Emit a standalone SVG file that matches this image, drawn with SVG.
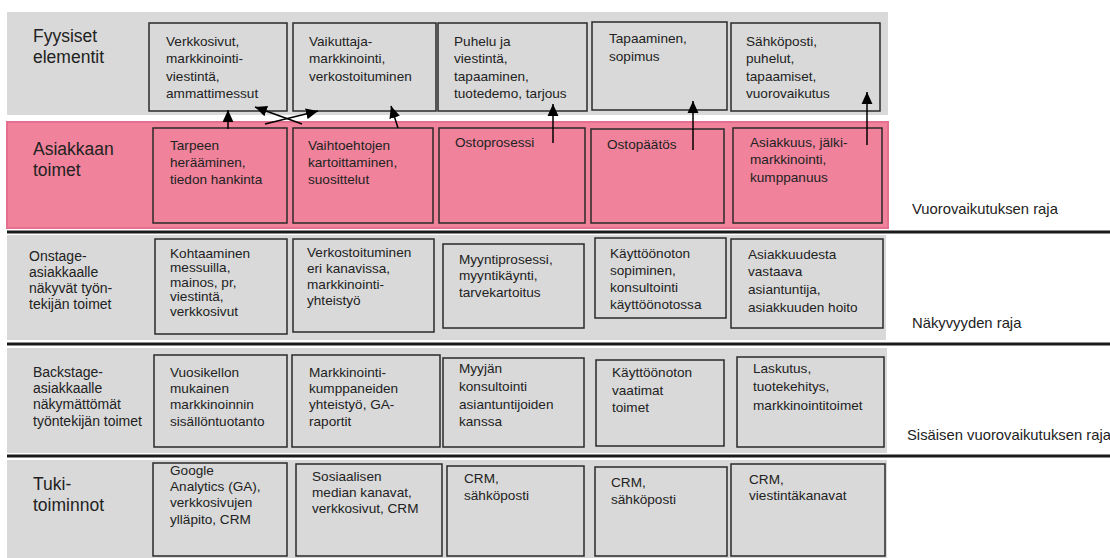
<svg xmlns="http://www.w3.org/2000/svg" width="1110" height="558" viewBox="0 0 1110 558">
<style>
.band{fill:#d9d9d9}
.pink{fill:#f0829b;stroke:#e56f8e;stroke-width:2}
.box{fill:#d9d9d9;stroke:#2a2a2a;stroke-width:1.5}
.pbox{fill:#f0829b;stroke:#2a2a2a;stroke-width:1.5}
text{font-family:"Liberation Sans",Arial,sans-serif;fill:#222}
.t{font-size:13.6px}
.h{font-size:17.5px}
.s{font-size:14px}
.r{font-size:14.8px}
.sep{stroke:#1a1a1a;stroke-width:3}
.arr{stroke:#000;stroke-width:1.5;fill:none;marker-end:url(#ah)}
</style>
<defs>
<marker id="ah" markerUnits="userSpaceOnUse" markerWidth="12" markerHeight="12" refX="11" refY="5" orient="auto" viewBox="0 0 11 10">
<path d="M0,0 L11,5 L0,10 z" fill="#000"/>
</marker>
</defs>
<rect width="1110" height="558" fill="#fff"/>

<!-- lanes -->
<g id="lane-fyysiset">
<rect class="band" x="7" y="12" width="881" height="103"/>
<text class="h" x="33" y="42">Fyysiset</text>
<text class="h" x="33" y="63">elementit</text>
</g>
<g id="lane-asiakkaan">
<rect class="pink" x="7" y="122" width="881" height="106"/>
<text class="h" x="33" y="155">Asiakkaan</text>
<text class="h" x="33" y="176">toimet</text>
</g>
<g id="lane-onstage">
<rect class="band" x="7" y="235" width="879" height="105"/>
<text class="s"><tspan x="29" y="261">Onstage-</tspan><tspan x="29" y="277">asiakkaalle</tspan><tspan x="29" y="293">näkyvät työn-</tspan><tspan x="29" y="309">tekijän toimet</tspan></text>
</g>
<g id="lane-backstage">
<rect class="band" x="7" y="348" width="880" height="105"/>
<text class="s"><tspan x="33" y="377">Backstage-</tspan><tspan x="33" y="393">asiakkaalle</tspan><tspan x="33" y="409">näkymättömät</tspan><tspan x="33" y="426">työntekijän toimet</tspan></text>
</g>
<g id="lane-tuki">
<rect class="band" x="7" y="460" width="880" height="98"/>
<text class="h" x="33" y="490">Tuki-</text>
<text class="h" x="33" y="511">toiminnot</text>
</g>

<!-- separator lines -->
<g id="boundaries">
<line class="sep" x1="7" y1="232" x2="1110" y2="232"/>
<line class="sep" x1="7" y1="344" x2="1110" y2="344"/>
<line class="sep" x1="7" y1="456" x2="1110" y2="456"/>
<text class="r" x="912" y="214">Vuorovaikutuksen raja</text>
<text class="r" x="912" y="328">Näkyvyyden raja</text>
<text class="r" x="907" y="440">Sisäisen vuorovaikutuksen raja</text>
</g>

<!-- Row 1 -->
<g id="f1"><rect class="box" x="149" y="23" width="138" height="88"/>
<text class="t"><tspan x="166" y="46">Verkkosivut,</tspan><tspan x="166" y="63">markkinointi-</tspan><tspan x="166" y="81">viestintä,</tspan><tspan x="166" y="98">ammattimessut</tspan></text></g>
<g id="f2"><rect class="box" x="293" y="23" width="143" height="88"/>
<text class="t"><tspan x="309" y="46">Vaikuttaja-</tspan><tspan x="309" y="63">markkinointi,</tspan><tspan x="309" y="81">verkostoituminen</tspan></text></g>
<g id="f3"><rect class="box" x="438" y="23" width="149" height="88"/>
<text class="t"><tspan x="454" y="46">Puhelu ja</tspan><tspan x="454" y="63">viestintä,</tspan><tspan x="454" y="81">tapaaminen,</tspan><tspan x="454" y="98">tuotedemo, tarjous</tspan></text></g>
<g id="f4"><rect class="box" x="592" y="22" width="135" height="88"/>
<text class="t"><tspan x="609" y="43">Tapaaminen,</tspan><tspan x="609" y="61">sopimus</tspan></text></g>
<g id="f5"><rect class="box" x="731" y="23" width="149" height="88"/>
<text class="t"><tspan x="746" y="46">Sähköposti,</tspan><tspan x="746" y="63">puhelut,</tspan><tspan x="746" y="81">tapaamiset,</tspan><tspan x="746" y="98">vuorovaikutus</tspan></text></g>

<!-- Row 2 -->
<g id="a1"><rect class="pbox" x="153" y="128" width="134" height="95"/>
<text class="t"><tspan x="170" y="150">Tarpeen</tspan><tspan x="170" y="167">herääminen,</tspan><tspan x="170" y="184">tiedon hankinta</tspan></text></g>
<g id="a2"><rect class="pbox" x="293" y="128" width="140" height="95"/>
<text class="t"><tspan x="308" y="150">Vaihtoehtojen</tspan><tspan x="308" y="167">kartoittaminen,</tspan><tspan x="308" y="184">suosittelut</tspan></text></g>
<g id="a3"><rect class="pbox" x="439" y="128" width="146" height="95"/>
<text class="t"><tspan x="455" y="147">Ostoprosessi</tspan></text></g>
<g id="a4"><rect class="pbox" x="591" y="129" width="133" height="94"/>
<text class="t"><tspan x="607" y="149">Ostopäätös</tspan></text></g>
<g id="a5"><rect class="pbox" x="733" y="128" width="149" height="95"/>
<text class="t"><tspan x="750" y="147">Asiakkuus, jälki-</tspan><tspan x="750" y="164">markkinointi,</tspan><tspan x="750" y="182">kumppanuus</tspan></text></g>

<!-- Row 3 -->
<g id="o1"><rect class="box" x="155" y="239" width="132" height="95"/>
<text class="t"><tspan x="170" y="258">Kohtaaminen</tspan><tspan x="170" y="272">messuilla,</tspan><tspan x="170" y="287">mainos, pr,</tspan><tspan x="170" y="301">viestintä,</tspan><tspan x="170" y="316">verkkosivut</tspan></text></g>
<g id="o2"><rect class="box" x="293" y="239" width="141" height="93"/>
<text class="t"><tspan x="307" y="257">Verkostoituminen</tspan><tspan x="307" y="273">eri kanavissa,</tspan><tspan x="307" y="289">markkinointi-</tspan><tspan x="307" y="305">yhteistyö</tspan></text></g>
<g id="o3"><rect class="box" x="443" y="244" width="141" height="84"/>
<text class="t"><tspan x="459" y="264">Myyntiprosessi,</tspan><tspan x="459" y="280">myyntikäynti,</tspan><tspan x="459" y="297">tarvekartoitus</tspan></text></g>
<g id="o4"><rect class="box" x="595" y="238" width="131" height="80"/>
<text class="t"><tspan x="610" y="258">Käyttöönoton</tspan><tspan x="610" y="275">sopiminen,</tspan><tspan x="610" y="292">konsultointi</tspan><tspan x="610" y="309">käyttöönotossa</tspan></text></g>
<g id="o5"><rect class="box" x="731" y="239" width="152" height="89"/>
<text class="t"><tspan x="748" y="259">Asiakkuudesta</tspan><tspan x="748" y="276">vastaava</tspan><tspan x="748" y="294">asiantuntija,</tspan><tspan x="748" y="312">asiakkuuden hoito</tspan></text></g>

<!-- Row 4 -->
<g id="b1"><rect class="box" x="154" y="355" width="133" height="92"/>
<text class="t"><tspan x="170" y="377">Vuosikellon</tspan><tspan x="170" y="393">mukainen</tspan><tspan x="170" y="409">markkinoinnin</tspan><tspan x="170" y="426">sisällöntuotanto</tspan></text></g>
<g id="b2"><rect class="box" x="292" y="355" width="148" height="92"/>
<text class="t"><tspan x="309" y="377">Markkinointi-</tspan><tspan x="309" y="393">kumppaneiden</tspan><tspan x="309" y="409">yhteistyö, GA-</tspan><tspan x="309" y="426">raportit</tspan></text></g>
<g id="b3"><rect class="box" x="443" y="358" width="141" height="89"/>
<text class="t"><tspan x="459" y="373">Myyjän</tspan><tspan x="459" y="391">konsultointi</tspan><tspan x="459" y="409">asiantuntijoiden</tspan><tspan x="459" y="426">kanssa</tspan></text></g>
<g id="b4"><rect class="box" x="596" y="360" width="128" height="86"/>
<text class="t"><tspan x="612" y="377">Käyttöönoton</tspan><tspan x="612" y="395">vaatimat</tspan><tspan x="612" y="412">toimet</tspan></text></g>
<g id="b5"><rect class="box" x="737" y="357" width="147" height="90"/>
<text class="t"><tspan x="753" y="373">Laskutus,</tspan><tspan x="753" y="391">tuotekehitys,</tspan><tspan x="753" y="410">markkinointitoimet</tspan></text></g>

<!-- Row 5 -->
<g id="s1"><rect class="box" x="153" y="463" width="134" height="93"/>
<text class="t"><tspan x="170" y="475">Google</tspan><tspan x="170" y="491">Analytics (GA),</tspan><tspan x="170" y="507">verkkosivujen</tspan><tspan x="170" y="524">ylläpito, CRM</tspan></text></g>
<g id="s2"><rect class="box" x="296" y="464" width="146" height="92"/>
<text class="t"><tspan x="312" y="481">Sosiaalisen</tspan><tspan x="312" y="497">median kanavat,</tspan><tspan x="312" y="513">verkkosivut, CRM</tspan></text></g>
<g id="s3"><rect class="box" x="447" y="466" width="137" height="90"/>
<text class="t"><tspan x="464" y="483">CRM,</tspan><tspan x="464" y="500">sähköposti</tspan></text></g>
<g id="s4"><rect class="box" x="595" y="467" width="132" height="89"/>
<text class="t"><tspan x="611" y="487">CRM,</tspan><tspan x="611" y="504">sähköposti</tspan></text></g>
<g id="s5"><rect class="box" x="731" y="464" width="154" height="92"/>
<text class="t"><tspan x="749" y="484">CRM,</tspan><tspan x="749" y="500">viestintäkanavat</tspan></text></g>

<!-- connectors -->
<g id="connectors">
<line class="arr" x1="228" y1="129" x2="228" y2="110"/>
<line class="arr" x1="302" y1="124" x2="255" y2="107"/>
<line class="arr" x1="265" y1="124" x2="318" y2="111"/>
<line class="arr" x1="398" y1="128" x2="391" y2="106"/>
<line class="arr" x1="553" y1="143" x2="553" y2="104"/>
<line class="arr" x1="693" y1="150" x2="693" y2="101"/>
<line class="arr" x1="867" y1="145" x2="867" y2="92"/>
</g>
</svg>
